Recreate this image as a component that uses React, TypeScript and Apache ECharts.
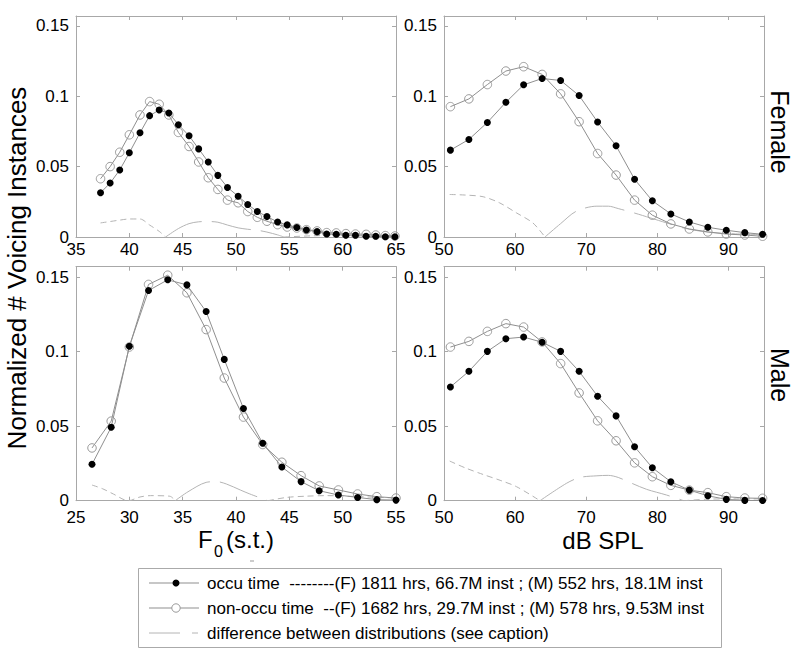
import React, { useEffect, useRef } from "react";
import * as echarts from "echarts";

// ---------- data ----------
const femF0X = [37.3, 38.2, 39.1, 40.0, 41.0, 41.9, 42.8, 43.7, 44.6, 45.6, 46.5, 47.4, 48.3, 49.2, 50.2, 51.1, 52.0, 52.9, 53.9, 54.8, 55.7, 56.6, 57.6, 58.5, 59.4, 60.3, 61.2, 62.2, 63.1, 64.0, 64.9];
const femF0Occu = [0.0314, 0.0383, 0.0476, 0.0598, 0.074, 0.0862, 0.0902, 0.0881, 0.0798, 0.0719, 0.0626, 0.0533, 0.0438, 0.0352, 0.029, 0.0231, 0.0181, 0.0145, 0.0107, 0.0086, 0.0067, 0.005, 0.0038, 0.0021, 0.0019, 0.0012, 0.0012, 0.0005, 0.0005, 0.0002, 0.0002];
const femF0Non = [0.0414, 0.05, 0.0602, 0.0726, 0.0867, 0.0962, 0.0943, 0.0867, 0.0743, 0.0643, 0.0533, 0.0421, 0.0338, 0.0262, 0.0243, 0.0181, 0.014, 0.0112, 0.0088, 0.0071, 0.0064, 0.0052, 0.0043, 0.0031, 0.0029, 0.0024, 0.0021, 0.0019, 0.0014, 0.001, 0.0007];

const dbX = [50.9, 53.5, 56.1, 58.7, 61.2, 63.8, 66.4, 69.0, 71.6, 74.2, 76.8, 79.3, 81.9, 84.5, 87.1, 89.7, 92.3, 94.8];
const femDbOccu = [0.0617, 0.0693, 0.0814, 0.0957, 0.1081, 0.1126, 0.1112, 0.1005, 0.0817, 0.0648, 0.041, 0.0257, 0.0164, 0.0107, 0.0069, 0.0048, 0.0031, 0.0019];
const femDbNon = [0.0926, 0.0981, 0.1083, 0.1179, 0.121, 0.1155, 0.1017, 0.0819, 0.0593, 0.044, 0.0262, 0.0155, 0.0093, 0.0057, 0.0036, 0.0021, 0.0014, 0.0005];

const maleF0X = [26.5, 28.3, 30.0, 31.8, 33.6, 35.4, 37.2, 38.9, 40.7, 42.5, 44.3, 46.1, 47.8, 49.6, 51.4, 53.2, 55.0];
const maleF0Occu = [0.0244, 0.0493, 0.1036, 0.141, 0.1482, 0.1448, 0.1269, 0.0948, 0.0619, 0.0386, 0.0226, 0.0128, 0.0067, 0.0038, 0.0022, 0.0007, 0.0004];
const maleF0Non = [0.0354, 0.0534, 0.1031, 0.1451, 0.1513, 0.1395, 0.1148, 0.0823, 0.0561, 0.0377, 0.0258, 0.0168, 0.0099, 0.0072, 0.0045, 0.0027, 0.0018];

const maleDbOccu = [0.0763, 0.0868, 0.1002, 0.1087, 0.1098, 0.1063, 0.1002, 0.0868, 0.0701, 0.0569, 0.0362, 0.0221, 0.0127, 0.0071, 0.0033, 0.0009, 0.0002, 0.0001];
const maleDbNon = [0.1031, 0.1069, 0.1136, 0.1188, 0.1165, 0.1065, 0.092, 0.0723, 0.0536, 0.0402, 0.0254, 0.0161, 0.0103, 0.0071, 0.0054, 0.0027, 0.0018, 0.0016];

// difference curves: "A" = non-occu above occu (short dash), "B" = occu above non-occu (long dash)
const femF0DiffAX = [37.3, 38.2, 39.1, 40.0, 41.0, 41.9, 42.8, 43.4];
const femF0DiffAY = [0.01, 0.011, 0.012, 0.0128, 0.0128, 0.0085, 0.004, 0];
const femF0DiffBX = [43.4, 44.6, 45.6, 46.5, 47.4, 48.3, 49.2, 50.2, 51.1, 52.0, 52.9, 53.9, 54.5];
const femF0DiffBY = [0, 0.006, 0.0095, 0.0108, 0.011, 0.0105, 0.0085, 0.0065, 0.0055, 0.0048, 0.0035, 0.0015, 0];
const femF0DiffA2X = [54.5, 57, 60, 65];
const femF0DiffA2Y = [0, 0.0008, 0.0012, 0.0006];

const femDbDiffAX = [50.8, 53.0, 55.5, 57.8, 60.2, 62.5, 64.2];
const femDbDiffAY = [0.0302, 0.0298, 0.0286, 0.0243, 0.0171, 0.01, 0];
const femDbDiffBX = [64.2, 66.4, 68.6, 71.5, 73.1, 74.5, 76.8, 79.0, 81.3, 83.7, 86.0, 88.4, 91.0, 95.0];
const femDbDiffBY = [0, 0.0095, 0.0183, 0.0219, 0.0219, 0.0202, 0.017, 0.0136, 0.01, 0.0064, 0.0042, 0.0029, 0.0022, 0.0017];

const maleF0DiffAX = [26.5, 27.5, 28.5, 29.9, 31.0, 32.0, 33.8, 34.3];
const maleF0DiffAY = [0.0105, 0.008, 0.0045, 0, 0.0025, 0.0034, 0.003, 0];
const maleF0DiffBX = [34.3, 35.5, 37.2, 38.2, 39.1, 40.4, 41.3, 43.0];
const maleF0DiffBY = [0, 0.006, 0.0123, 0.0128, 0.0112, 0.0072, 0.0045, 0];
const maleF0DiffA2X = [43.0, 44.75, 46.5, 48.5, 51.6, 55.0];
const maleF0DiffA2Y = [0, 0.0022, 0.003, 0.0034, 0.0027, 0.0018];

const maleDbDiffAX = [50.8, 53.0, 55.5, 58.0, 60.2, 63.5];
const maleDbDiffAY = [0.0266, 0.022, 0.0176, 0.0135, 0.0094, 0];
const maleDbDiffBX = [63.5, 67.2, 69.1, 71.5, 73.1, 74.5, 76.5, 78.5, 81.3, 83.7];
const maleDbDiffBY = [0, 0.0116, 0.0156, 0.0167, 0.017, 0.0156, 0.0115, 0.0076, 0.0038, 0];
const maleDbDiffA2X = [83.7, 87, 90, 95];
const maleDbDiffA2Y = [0, 0.001, 0.0012, 0.0012];

const legendTexts = [
  "occu time  --------(F) 1811 hrs, 66.7M inst ; (M) 552 hrs, 18.1M inst",
  "non-occu time  --(F) 1682 hrs, 29.7M inst ; (M) 578 hrs, 9.53M inst",
  "difference between distributions (see caption)",
];

// ---------- styling ----------
const FONT = "'Liberation Sans', Arial, Helvetica, sans-serif";
const AXIS_GRAY = "#a8a8a8";
const LINE_GRAY = "#8f8f8f";
const DIFF_GRAY = "#b4b4b4";
const Y_MAX = 0.157;

const zip = (xs: number[], ys: number[]) => xs.map((x, i) => [x, ys[i]]);

export default function App() {
  const ref = useRef<HTMLDivElement>(null);
  useEffect(() => {
    if (!ref.current) return;
    const chart = echarts.init(ref.current, undefined, { renderer: "svg" });

    const grids = [
      { left: 76, top: 16, width: 320, height: 221 },
      { left: 444, top: 16, width: 320, height: 221 },
      { left: 76, top: 266.7, width: 320, height: 234 },
      { left: 444, top: 266.7, width: 320, height: 234 },
    ];
    const xr = [
      { min: 35, max: 65, interval: 5 },
      { min: 50, max: 95, interval: 10 },
      { min: 25, max: 55, interval: 5 },
      { min: 50, max: 95, interval: 10 },
    ];
    const labelMargins = [4, 4, 8, 8];

    const xAxis: any[] = [];
    const yAxis: any[] = [];
    grids.forEach((_, i) => {
      const common = {
        type: "value",
        gridIndex: i,
        min: xr[i].min,
        max: xr[i].max,
        interval: xr[i].interval,
        axisLine: { show: true, onZero: false, lineStyle: { color: AXIS_GRAY, width: 1 } },
        axisTick: { show: true, inside: true, length: 4, lineStyle: { color: AXIS_GRAY } },
        splitLine: { show: false },
      };
      xAxis.push({
        ...common,
        position: "bottom",
        axisLabel: { show: true, color: "#000", fontSize: 17, fontFamily: FONT, margin: labelMargins[i], showMaxLabel: i === 0 || i === 2, showMinLabel: true },
      });
      xAxis.push({ ...common, position: "top", axisLabel: { show: false } });
      const ycommon = {
        type: "value",
        gridIndex: i,
        min: 0,
        max: Y_MAX,
        interval: 0.05,
        axisLine: { show: true, onZero: false, lineStyle: { color: AXIS_GRAY, width: 1 } },
        axisTick: { show: true, inside: true, length: 4, lineStyle: { color: AXIS_GRAY } },
        splitLine: { show: false },
      };
      yAxis.push({
        ...ycommon,
        position: "left",
        axisLabel: { show: true, color: "#000", fontSize: 17, fontFamily: FONT, margin: 7, showMaxLabel: false },
      });
      yAxis.push({ ...ycommon, position: "right", axisLabel: { show: false } });
    });

    const panels = [
      { x: femF0X, occu: femF0Occu, non: femF0Non, diffA: [[femF0DiffAX, femF0DiffAY], [femF0DiffA2X, femF0DiffA2Y]], diffB: [[femF0DiffBX, femF0DiffBY]] },
      { x: dbX, occu: femDbOccu, non: femDbNon, diffA: [[femDbDiffAX, femDbDiffAY]], diffB: [[femDbDiffBX, femDbDiffBY]] },
      { x: maleF0X, occu: maleF0Occu, non: maleF0Non, diffA: [[maleF0DiffAX, maleF0DiffAY], [maleF0DiffA2X, maleF0DiffA2Y]], diffB: [[maleF0DiffBX, maleF0DiffBY]] },
      { x: dbX, occu: maleDbOccu, non: maleDbNon, diffA: [[maleDbDiffAX, maleDbDiffAY], [maleDbDiffA2X, maleDbDiffA2Y]], diffB: [[maleDbDiffBX, maleDbDiffBY]] },
    ];

    const series: any[] = [];
    panels.forEach((p, i) => {
      const axes = { xAxisIndex: i * 2, yAxisIndex: i * 2 };
      p.diffA.forEach(([xs, ys]) =>
        series.push({
          type: "line", ...axes, data: zip(xs, ys), showSymbol: false, smooth: 0.3,
          lineStyle: { color: DIFF_GRAY, width: 1, type: [6, 4] }, z: 1,
        })
      );
      p.diffB.forEach(([xs, ys]) =>
        series.push({
          type: "line", ...axes, data: zip(xs, ys), showSymbol: false, smooth: 0.3,
          lineStyle: { color: DIFF_GRAY, width: 1, type: [40, 10] }, z: 1,
        })
      );
      series.push({
        type: "line", ...axes, data: zip(p.x, p.non), symbol: "circle", symbolSize: 8.5,
        lineStyle: { color: LINE_GRAY, width: 1 },
        itemStyle: { color: "rgba(255,255,255,0)", borderColor: "#9a9a9a", borderWidth: 1 }, z: 2,
      });
      series.push({
        type: "line", ...axes, data: zip(p.x, p.occu), symbol: "circle", symbolSize: 7,
        lineStyle: { color: LINE_GRAY, width: 1 },
        itemStyle: { color: "#000", borderColor: "#000", borderWidth: 0 }, z: 3,
      });
    });

    const legTop = 568;
    const rows = [583, 608, 633];
    const graphic: any[] = [
      // y-axis title
      {
        type: "text", x: 17, y: 268, rotation: Math.PI / 2,
        style: { text: "Normalized # Voicing Instances", fill: "#000", font: `26px ${FONT}`, align: "center", verticalAlign: "middle" },
      },
      // row labels
      {
        type: "text", x: 780, y: 132, rotation: -Math.PI / 2,
        style: { text: "Female", fill: "#000", font: `25px ${FONT}`, align: "center", verticalAlign: "middle" },
      },
      {
        type: "text", x: 780, y: 375, rotation: -Math.PI / 2,
        style: { text: "Male", fill: "#000", font: `25px ${FONT}`, align: "center", verticalAlign: "middle" },
      },
      // x titles
      { type: "text", x: 198, y: 539, style: { text: "F", fill: "#000", font: `24px ${FONT}`, align: "left", verticalAlign: "middle" } },
      { type: "text", x: 214, y: 551, style: { text: "0", fill: "#000", font: `16px ${FONT}`, align: "left", verticalAlign: "middle" } },
      { type: "text", x: 226, y: 539, style: { text: "(s.t.)", fill: "#000", font: `24px ${FONT}`, align: "left", verticalAlign: "middle" } },
      { type: "text", x: 603, y: 540, style: { text: "dB SPL", fill: "#000", font: `24px ${FONT}`, align: "center", verticalAlign: "middle" } },
      { type: "line", shape: { x1: 250, y1: 561, x2: 254, y2: 561 }, style: { stroke: "#999", lineWidth: 1 } },
      // legend box
      { type: "rect", shape: { x: 138.5, y: legTop + 0.5, width: 583, height: 79 }, style: { fill: "#fff", stroke: "#aaa", lineWidth: 1 }, z: 10 },
      { type: "line", shape: { x1: 149, y1: rows[0], x2: 199, y2: rows[0] }, style: { stroke: LINE_GRAY, lineWidth: 1 }, z: 11 },
      { type: "circle", shape: { cx: 176, cy: rows[0], r: 3.5 }, style: { fill: "#000" }, z: 12 },
      { type: "line", shape: { x1: 149, y1: rows[1], x2: 199, y2: rows[1] }, style: { stroke: LINE_GRAY, lineWidth: 1 }, z: 11 },
      { type: "circle", shape: { cx: 176, cy: rows[1], r: 4.2 }, style: { fill: "#fff", stroke: "#9a9a9a", lineWidth: 1 }, z: 12 },
      { type: "line", shape: { x1: 149, y1: rows[2], x2: 199, y2: rows[2] }, style: { stroke: DIFF_GRAY, lineWidth: 1, lineDash: [31, 12, 6, 12] }, z: 11 },
      ...legendTexts.map((t, k) => ({
        type: "text", x: 207, y: rows[k], z: 12,
        style: { text: t, fill: "#000", font: `17px ${FONT}`, align: "left", verticalAlign: "middle" },
      })),
    ];

    chart.setOption({
      animation: false,
      backgroundColor: "#fff",
      grid: grids,
      xAxis,
      yAxis,
      series,
      graphic,
    });
    return () => chart.dispose();
  }, []);

  return <div ref={ref} style={{ position: "fixed", left: 0, top: 0, width: 800, height: 651 }} />;
}
